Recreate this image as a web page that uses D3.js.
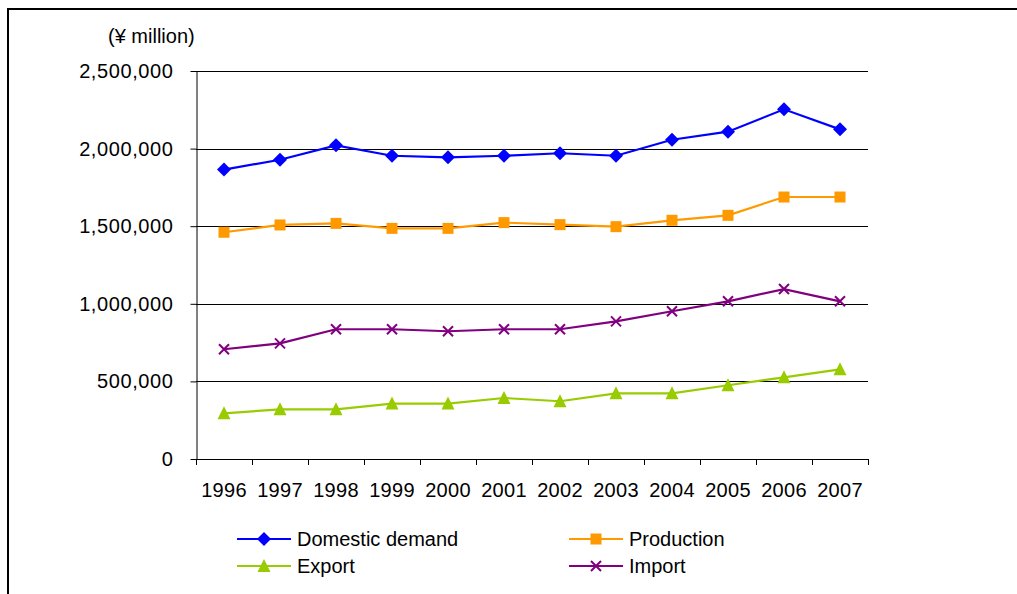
<!DOCTYPE html>
<html>
<head>
<meta charset="utf-8">
<script src="https://cdn.jsdelivr.net/npm/d3@7/dist/d3.min.js"></script>
<style>
  html, body { margin: 0; padding: 0; background: #fff; }
  svg { display: block; }
  text { font-family: "Liberation Sans", Arial, sans-serif; fill: #000; }
</style>
</head>
<body>
<svg id="chart" width="1017" height="594"></svg>
<script>
const years = ["1996","1997","1998","1999","2000","2001","2002","2003","2004","2005","2006","2007"];
const domesticDemand = [1865000,1928000,2021000,1954000,1944000,1954000,1970000,1954000,2057000,2109000,2253000,2124000];
const production     = [1461000,1508000,1518000,1486000,1486000,1523000,1510000,1497000,1538000,1570000,1688000,1688000];
const exportVals     = [294000,320000,320000,357000,357000,393000,372000,423000,423000,475000,526000,578000];
const importVals     = [707000,745000,836000,836000,823000,836000,836000,887000,952000,1016000,1095000,1016000];
const yTicks = [0,500000,1000000,1500000,2000000,2500000];
const unitLabel = "(¥ million)";

const seriesList = [
  {name: "Domestic demand", values: domesticDemand, color: "#0000FF", marker: "diamond"},
  {name: "Production", values: production, color: "#FF9900", marker: "square"},
  {name: "Export", values: exportVals, color: "#99CC00", marker: "triangle"},
  {name: "Import", values: importVals, color: "#800080", marker: "x"}
];

const svg = d3.select("#chart");
const pLeft = 196, pRight = 868, pTop = 71, pBottom = 459;

// outer frame
svg.append("rect").attr("x", 8).attr("y", 9).attr("width", 1200).attr("height", 800)
  .attr("fill", "none").attr("stroke", "#000").attr("stroke-width", 2);

const x = d3.scaleBand().domain(years).range([pLeft, pRight]).padding(0);
const y = d3.scaleLinear().domain([0, 2500000]).range([pBottom, pTop]);

// gridlines
svg.append("g").selectAll("line").data(yTicks.filter(d => d > 0)).join("line")
  .attr("x1", pLeft).attr("x2", pRight)
  .attr("y1", d => Math.round(y(d)) + 0.5).attr("y2", d => Math.round(y(d)) + 0.5)
  .attr("stroke", "#000").attr("stroke-width", 1);

// y axis
const yAxis = svg.append("g").attr("transform", `translate(${pLeft + 0.5},0)`)
  .call(d3.axisLeft(y).tickValues(yTicks).tickSize(6).tickSizeOuter(0).tickPadding(17)
    .tickFormat(d3.format(",")));
yAxis.selectAll("line, path").attr("stroke", "#000");
yAxis.selectAll("text").attr("font-size", 20).attr("letter-spacing", "0.6px")
  .attr("font-family", "'Liberation Sans', Arial, sans-serif").attr("fill", "#000");

// x axis line
svg.append("line").attr("x1", pLeft).attr("x2", pRight + 0.5)
  .attr("y1", pBottom + 0.5).attr("y2", pBottom + 0.5).attr("stroke", "#000");
// x ticks at category boundaries
const boundaries = years.map(d => x(d)).concat([x(years[years.length - 1]) + x.bandwidth()]);
svg.append("g").selectAll("line").data(boundaries).join("line")
  .attr("x1", d => Math.round(d) + 0.5).attr("x2", d => Math.round(d) + 0.5)
  .attr("y1", pBottom).attr("y2", pBottom + 6).attr("stroke", "#000");
// x labels
svg.append("g").selectAll("text").data(years).join("text")
  .attr("x", d => x(d) + x.bandwidth() / 2).attr("y", 497)
  .attr("text-anchor", "middle").attr("font-size", 20).attr("letter-spacing", "0.3px")
  .text(d => d);

// unit label
svg.append("text").attr("x", 108).attr("y", 43).attr("font-size", 20).text(unitLabel);

function drawMarker(g, type, color) {
  if (type === "diamond") {
    g.append("path").attr("d", "M0,-7L7,0L0,7L-7,0Z").attr("fill", color);
  } else if (type === "square") {
    g.append("rect").attr("x", -5.5).attr("y", -5.5).attr("width", 11).attr("height", 11).attr("fill", color);
  } else if (type === "triangle") {
    g.append("path").attr("d", "M0,-7L6.5,6L-6.5,6Z").attr("fill", color);
  } else if (type === "x") {
    g.append("path").attr("d", "M-5,-5L5,5M-5,5L5,-5").attr("stroke", color).attr("stroke-width", 2).attr("fill", "none");
  }
}

const line = d3.line().x((d, i) => x(years[i]) + x.bandwidth() / 2).y(d => y(d));
seriesList.forEach(s => {
  svg.append("path").datum(s.values).attr("d", line)
    .attr("fill", "none").attr("stroke", s.color).attr("stroke-width", 2.2);
  s.values.forEach((v, i) => {
    const g = svg.append("g").attr("transform", `translate(${x(years[i]) + x.bandwidth() / 2},${y(v)})`);
    drawMarker(g, s.marker, s.color);
  });
});

// legend
const legendPos = [
  {lx: 237, ly: 539},
  {lx: 569, ly: 539},
  {lx: 237, ly: 566},
  {lx: 569, ly: 566}
];
seriesList.forEach((s, i) => {
  const p = legendPos[i];
  const g = svg.append("g");
  g.append("line").attr("x1", p.lx).attr("x2", p.lx + 54).attr("y1", p.ly).attr("y2", p.ly)
    .attr("stroke", s.color).attr("stroke-width", 2);
  const m = g.append("g").attr("transform", `translate(${p.lx + 27},${p.ly})`);
  drawMarker(m, s.marker, s.color);
  g.append("text").attr("x", p.lx + 60).attr("y", p.ly + 7).attr("font-size", 20).text(s.name);
});
</script>
</body>
</html>
